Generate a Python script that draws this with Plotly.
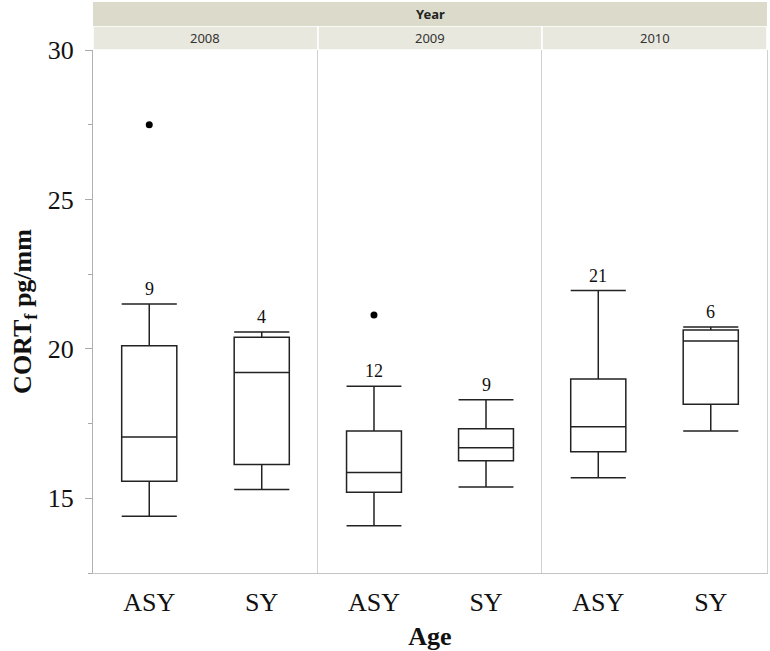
import plotly.graph_objects as go

# ---- data ----
years = ["2008", "2009", "2010"]
ages = ["ASY", "SY"]

# ordered: 2008 ASY, 2008 SY, 2009 ASY, 2009 SY, 2010 ASY, 2010 SY
lower_whisker = [14.40, 15.29, 14.08, 15.38, 15.69, 17.25]
q1_vals = [15.57, 16.13, 15.20, 16.26, 16.56, 18.15]
median_vals = [17.05, 19.21, 15.86, 16.69, 17.39, 20.26]
q3_vals = [20.10, 20.39, 17.25, 17.33, 18.99, 20.63]
upper_whisker = [21.50, 20.56, 18.75, 18.30, 21.95, 20.73]
n_counts = [9, 4, 12, 9, 21, 6]

outlier_year = ["2008", "2009"]
outlier_age = ["ASY", "ASY"]
outlier_value = [27.5, 21.13]

y_ticks = [15, 20, 25, 30]

SERIF = "Liberation Serif, Times New Roman, serif"
SANS = "Noto Sans, Open Sans, sans-serif"

domains = [[0.0, 0.3338], [0.3338, 0.6662], [0.6662, 1.0]]

fig = go.Figure()
annotations = []
shapes = []

for i, yr in enumerate(years):
    sfx = "" if i == 0 else str(i + 1)
    xr, yrf = "x" + sfx, "y" + sfx
    s = slice(2 * i, 2 * i + 2)
    fig.add_trace(go.Box(
        x=ages, q1=q1_vals[s], median=median_vals[s], q3=q3_vals[s],
        lowerfence=lower_whisker[s], upperfence=upper_whisker[s],
        boxpoints=False, width=0.49, whiskerwidth=1,
        line=dict(color="#222222", width=1.5), fillcolor="white",
        xaxis=xr, yaxis=yrf, showlegend=False, hoverinfo="skip"))
    ox = [a for yy, a in zip(outlier_year, outlier_age) if yy == yr]
    oy = [v for yy, v in zip(outlier_year, outlier_value) if yy == yr]
    if ox:
        fig.add_trace(go.Scatter(x=ox, y=oy, mode="markers",
                                 marker=dict(color="black", size=7),
                                 xaxis=xr, yaxis=yrf, showlegend=False))
    for j, ag in enumerate(ages):
        annotations.append(dict(x=ag, y=upper_whisker[2 * i + j], xref=xr, yref=yrf,
                                text=str(n_counts[2 * i + j]), showarrow=False,
                                yanchor="bottom", yshift=3,
                                font=dict(family=SERIF, size=18, color="#111")))
    # year header cell
    shapes.append(dict(type="rect", xref="paper", yref="paper",
                       x0=domains[i][0], x1=domains[i][1], y0=1.0, y1=1.046,
                       fillcolor="#e9e8df", line=dict(color="white", width=1.5),
                       layer="below"))
    annotations.append(dict(x=(domains[i][0] + domains[i][1]) / 2, y=1.023,
                            xref="paper", yref="paper", text=yr, showarrow=False,
                            xanchor="center", yanchor="middle",
                            font=dict(family=SANS, size=13, color="#333")))

shapes.append(dict(type="rect", xref="paper", yref="paper", x0=0, x1=1,
                   y0=1.046, y1=1.092, fillcolor="#dcdacb",
                   line=dict(width=0), layer="below"))
annotations.append(dict(x=0.5, y=1.069, xref="paper", yref="paper",
                        text="<b>Year</b>", showarrow=False,
                        xanchor="center", yanchor="middle",
                        font=dict(family=SANS, size=13, color="#222")))

layout = dict(
    width=770, height=651,
    margin=dict(l=93, r=3, t=50, b=78, autoexpand=False),
    plot_bgcolor="white", paper_bgcolor="white",
    annotations=annotations, shapes=shapes,
)

for i in range(3):
    sfx = "" if i == 0 else str(i + 1)
    layout["xaxis" + sfx] = dict(
        domain=domains[i], anchor="y" + sfx, type="category",
        categoryorder="array", categoryarray=ages, range=[-0.5, 1.5],
        showline=True, linecolor="#c4c4c4", linewidth=1, showgrid=False,
        ticks="", ticklabelstandoff=6, zeroline=False, automargin=False,
        tickfont=dict(family=SERIF, size=26, color="#111"))
    yax = dict(range=[12.5, 30], showgrid=False, zeroline=False, automargin=False,
               showline=True, linewidth=1, anchor="x" + sfx)
    if i == 0:
        yax.update(tickvals=y_ticks, ticks="outside", ticklen=7, tickcolor="#aaaaaa",
                   linecolor="#b0b0b0", ticklabelstandoff=6,
                   minor=dict(dtick=2.5, tick0=0, ticks="outside", ticklen=4,
                              tickcolor="#aaaaaa"),
                   tickfont=dict(family=SERIF, size=26, color="#111"),
                   title=dict(text="<b>CORT<sub>f</sub> pg/mm</b>", standoff=8,
                              font=dict(family=SERIF, size=26, color="#111")))
    else:
        yax.update(matches="y", showticklabels=False, ticks="", linecolor="#d0d0d0")
        if i == 2:
            yax.update(mirror=True)
    layout["yaxis" + sfx] = yax

layout["xaxis2"]["title"] = dict(text="<b>Age</b>", standoff=10,
                                 font=dict(family=SERIF, size=26, color="#111"))

fig.update_layout(**layout)
fig.write_html("out.html", config={"displayModeBar": False},
               post_script="document.body.style.margin='0';")
